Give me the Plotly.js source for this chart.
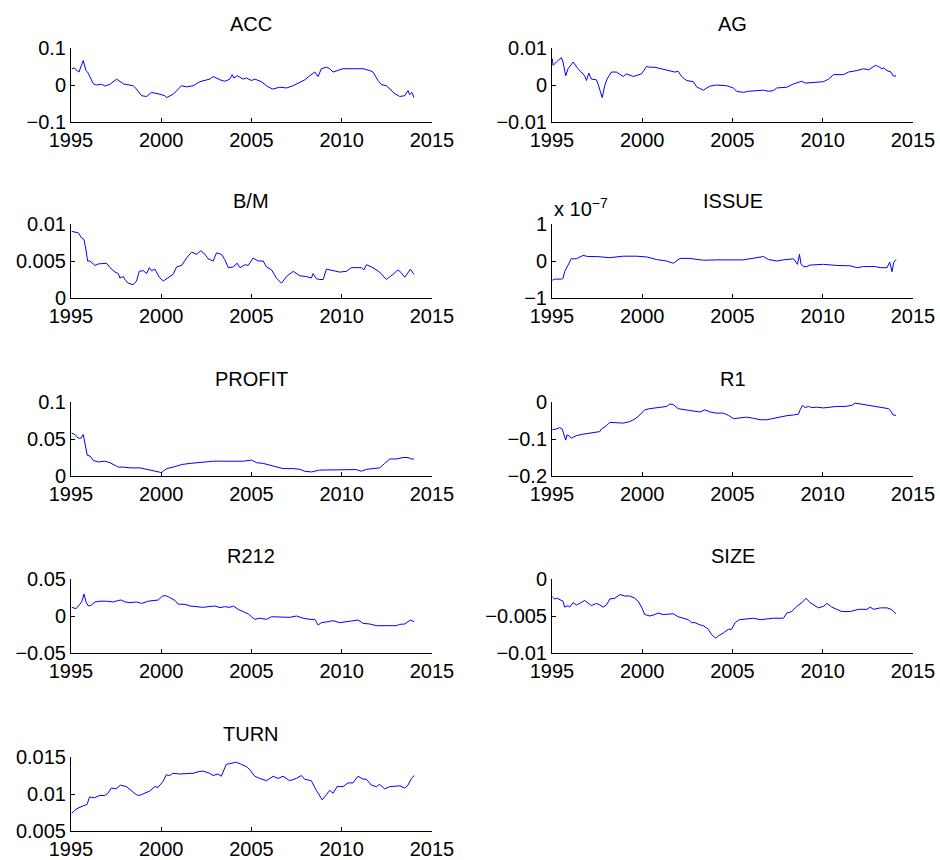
<!DOCTYPE html>
<html><head><meta charset="utf-8">
<script src="https://cdn.plot.ly/plotly-3.0.1.min.js"></script>
<style>html,body{margin:0;padding:0;background:#fff}</style>
</head><body><div id="chart" style="width:940px;height:860px"></div>
<script>
// ---------- data ----------
const panelNames = ['ACC','AG','B/M','ISSUE','PROFIT','R1','R212','SIZE','TURN'];
const xTickVals = [1995,2000,2005,2010,2015];
const xTickText = ['1995','2000','2005','2010','2015'];

const accYear = [1995.04,1995.17,1995.44,1995.68,1995.83,1995.92,1996.24,1996.42,1996.70,1996.88,1997.16,1997.53,1997.90,1998.17,1998.45,1998.63,1998.91,1999.19,1999.46,1999.93,2000.20,2000.30,2000.66,2000.94,2001.13,2001.40,2001.77,2002.14,2002.69,2002.88,2003.25,2003.52,2003.80,2003.93,2004.02,2004.21,2004.54,2004.72,2005.00,2005.18,2005.55,2005.83,2006.16,2006.57,2006.94,2007.31,2007.68,2007.95,2008.23,2008.51,2008.69,2008.87,2009.15,2009.34,2009.52,2009.80,2010.07,2010.63,2011.18,2011.55,2011.73,2012.01,2012.20,2012.47,2012.66,2012.93,2013.21,2013.49,2013.67,2013.76,2013.89,2014.00];
const accValue = [0.044,0.046,0.035,0.066,0.039,0.035,0.003,0.000,0.002,-0.003,0.002,0.016,0.003,0.001,-0.002,-0.011,-0.029,-0.031,-0.020,-0.025,-0.029,-0.034,-0.025,-0.011,-0.002,-0.005,-0.002,0.009,0.016,0.023,0.014,0.010,0.016,0.028,0.019,0.025,0.016,0.019,0.012,0.016,0.009,-0.002,-0.011,-0.006,-0.008,-0.002,0.007,0.014,0.025,0.035,0.023,0.044,0.048,0.044,0.035,0.039,0.044,0.044,0.044,0.039,0.035,0.012,0.001,-0.002,-0.011,-0.023,-0.031,-0.029,-0.015,-0.026,-0.020,-0.034];

const agYear = [1995.02,1995.06,1995.24,1995.52,1995.61,1995.76,1995.89,1996.17,1996.44,1996.72,1996.81,1996.91,1997.04,1997.18,1997.46,1997.55,1997.78,1997.92,1998.05,1998.29,1998.57,1998.94,1999.13,1999.50,1999.77,1999.96,2000.24,2000.42,2000.70,2001.07,2001.35,2001.62,2001.81,2001.99,2002.18,2002.46,2002.83,2003.01,2003.38,2003.75,2004.12,2004.68,2005.05,2005.23,2005.60,2005.88,2006.25,2006.71,2006.99,2007.27,2007.45,2008.01,2008.38,2008.84,2009.02,2009.49,2010.04,2010.32,2010.60,2011.15,2011.43,2011.89,2012.26,2012.54,2012.91,2013.09,2013.28,2013.37,2013.56,2013.78,2013.89,2014.06];
const agValue = [0.0071,0.0053,0.0062,0.0074,0.0062,0.0025,0.0044,0.0062,0.0044,0.0028,0.0025,0.0012,0.0032,0.0016,0.0014,0.0003,-0.0034,-0.0002,0.0016,0.0035,0.0035,0.0023,0.0030,0.0023,0.0028,0.0030,0.0050,0.0048,0.0048,0.0044,0.0041,0.0039,0.0035,0.0037,0.0023,0.0012,0.0009,-0.0005,-0.0014,-0.0003,0.0000,-0.0002,-0.0008,-0.0017,-0.0020,-0.0017,-0.0015,-0.0014,-0.0017,-0.0015,-0.0008,-0.0006,0.0003,0.0010,0.0005,0.0007,0.0009,0.0016,0.0028,0.0028,0.0035,0.0039,0.0044,0.0041,0.0053,0.0050,0.0044,0.0046,0.0039,0.0035,0.0025,0.0024];

const bmYear = [1995.04,1995.41,1995.59,1995.72,1995.83,1995.92,1996.05,1996.33,1996.51,1996.79,1996.97,1997.16,1997.44,1997.62,1997.71,1997.90,1997.99,1998.17,1998.45,1998.63,1998.78,1999.00,1999.19,1999.34,1999.46,1999.65,1999.89,2000.11,2000.30,2000.66,2000.85,2001.13,2001.40,2001.68,2001.96,2002.20,2002.42,2002.60,2002.88,2003.06,2003.34,2003.52,2003.71,2003.99,2004.21,2004.36,2004.63,2004.82,2005.09,2005.37,2005.65,2005.83,2006.11,2006.38,2006.66,2006.94,2007.31,2007.68,2008.04,2008.32,2008.41,2008.60,2008.78,2008.97,2009.15,2009.52,2009.89,2010.26,2010.53,2011.09,2011.22,2011.37,2011.73,2012.10,2012.47,2012.84,2013.12,2013.30,2013.49,2013.67,2013.80,2014.00];
const bmValue = [0.0090,0.0088,0.0081,0.0079,0.0065,0.0050,0.0050,0.0044,0.0046,0.0046,0.0047,0.0041,0.0035,0.0033,0.0027,0.0029,0.0025,0.0020,0.0018,0.0023,0.0036,0.0037,0.0033,0.0041,0.0037,0.0039,0.0028,0.0023,0.0026,0.0032,0.0042,0.0044,0.0054,0.0062,0.0059,0.0064,0.0059,0.0053,0.0050,0.0061,0.0059,0.0052,0.0041,0.0042,0.0047,0.0041,0.0045,0.0044,0.0054,0.0050,0.0050,0.0042,0.0038,0.0027,0.0020,0.0029,0.0036,0.0030,0.0029,0.0027,0.0033,0.0026,0.0025,0.0025,0.0039,0.0037,0.0035,0.0036,0.0041,0.0041,0.0038,0.0045,0.0041,0.0035,0.0025,0.0032,0.0038,0.0034,0.0028,0.0034,0.0039,0.0032];

const issueYear = [1995.02,1995.15,1995.52,1995.61,1995.70,1995.83,1995.98,1996.07,1996.35,1996.72,1997.00,1997.46,1998.20,1998.94,1999.68,2000.24,2000.79,2001.35,2001.72,2002.09,2002.64,2003.01,2003.38,2004.12,2004.86,2005.60,2005.97,2006.53,2006.71,2006.99,2007.45,2007.82,2008.19,2008.38,2008.47,2008.60,2008.71,2008.80,2008.93,2009.12,2009.30,2010.04,2010.78,2011.52,2011.89,2012.26,2012.63,2012.91,2013.19,2013.37,2013.56,2013.71,2013.84,2013.93,2014.06];
const issueValue = [-0.52e-7,-0.49e-7,-0.49e-7,-0.47e-7,-0.29e-7,-0.18e-7,-0.04e-7,0.06e-7,0.06e-7,0.15e-7,0.12e-7,0.12e-7,0.09e-7,0.13e-7,0.13e-7,0.11e-7,0.04e-7,0.00e-7,-0.06e-7,0.07e-7,0.07e-7,0.04e-7,0.02e-7,0.03e-7,0.02e-7,0.03e-7,0.06e-7,0.09e-7,0.12e-7,0.04e-7,0.00e-7,0.03e-7,0.04e-7,0.06e-7,0.00e-7,-0.09e-7,0.18e-7,-0.09e-7,-0.15e-7,-0.15e-7,-0.11e-7,-0.09e-7,-0.12e-7,-0.13e-7,-0.18e-7,-0.15e-7,-0.15e-7,-0.15e-7,-0.18e-7,-0.18e-7,-0.18e-7,-0.03e-7,-0.29e-7,-0.04e-7,0.04e-7];

const profitYear = [1995.04,1995.22,1995.41,1995.55,1995.68,1995.77,1995.90,1996.05,1996.24,1996.51,1996.88,1997.16,1997.44,1997.62,1997.90,1998.27,1998.82,1999.00,1999.37,1999.74,2000.02,2000.11,2000.30,2000.66,2001.13,2001.59,2001.96,2002.51,2002.88,2003.43,2003.99,2004.54,2005.00,2005.28,2005.65,2006.01,2006.38,2006.75,2007.31,2007.68,2007.95,2008.32,2008.78,2009.34,2009.89,2010.44,2010.81,2011.09,2011.37,2011.73,2012.10,2012.38,2012.66,2013.03,2013.40,2013.67,2013.86,2014.00];
const profitValue = [0.058,0.056,0.051,0.051,0.056,0.044,0.028,0.027,0.021,0.019,0.020,0.018,0.015,0.012,0.012,0.011,0.011,0.010,0.008,0.0055,0.0046,0.0065,0.010,0.012,0.0155,0.017,0.018,0.019,0.020,0.020,0.020,0.020,0.0215,0.018,0.017,0.015,0.012,0.010,0.010,0.009,0.0064,0.0055,0.008,0.008,0.008,0.008,0.0087,0.0064,0.009,0.010,0.011,0.017,0.023,0.023,0.025,0.025,0.023,0.023];

const r1Year = [1995.02,1995.24,1995.43,1995.57,1995.67,1995.76,1995.83,1995.94,1996.07,1996.35,1996.72,1997.09,1997.46,1997.65,1997.74,1998.02,1998.20,1998.57,1998.94,1999.31,1999.59,1999.87,2000.14,2000.42,2000.79,2001.16,2001.35,2001.53,2001.72,2001.99,2002.27,2002.64,2003.20,2003.47,2003.75,2004.12,2004.49,2004.77,2005.05,2005.42,2005.79,2006.16,2006.53,2006.90,2007.27,2007.64,2008.01,2008.38,2008.65,2008.75,2008.88,2009.02,2009.21,2009.39,2009.67,2010.04,2010.41,2010.78,2011.24,2011.61,2011.80,2012.08,2012.45,2012.82,2013.19,2013.65,2013.78,2013.89,2014.06];
const r1Value = [-0.075,-0.073,-0.069,-0.073,-0.089,-0.103,-0.089,-0.091,-0.098,-0.091,-0.087,-0.085,-0.082,-0.080,-0.073,-0.064,-0.055,-0.055,-0.057,-0.053,-0.046,-0.035,-0.021,-0.018,-0.016,-0.012,-0.012,-0.0055,-0.007,-0.018,-0.021,-0.023,-0.027,-0.021,-0.027,-0.030,-0.030,-0.036,-0.045,-0.042,-0.041,-0.044,-0.048,-0.048,-0.044,-0.041,-0.037,-0.035,-0.033,-0.021,-0.009,-0.015,-0.012,-0.015,-0.014,-0.016,-0.014,-0.012,-0.012,-0.009,-0.003,-0.0055,-0.009,-0.012,-0.015,-0.018,-0.025,-0.035,-0.036];

const r212Year = [1995.04,1995.28,1995.46,1995.59,1995.72,1995.83,1995.96,1996.14,1996.33,1996.61,1996.97,1997.34,1997.62,1997.80,1997.99,1998.27,1998.63,1998.91,1999.28,1999.65,1999.83,2000.07,2000.26,2000.48,2000.76,2000.94,2001.31,2001.59,2001.96,2002.32,2002.60,2002.97,2003.25,2003.52,2003.80,2003.99,2004.26,2004.54,2004.82,2005.00,2005.18,2005.46,2005.83,2006.11,2006.38,2006.75,2007.12,2007.49,2007.86,2008.23,2008.51,2008.69,2008.87,2009.24,2009.52,2009.89,2010.26,2010.63,2010.90,2011.18,2011.55,2011.92,2012.47,2013.03,2013.21,2013.49,2013.67,2013.80,2014.00];
const r212Value = [0.0117,0.0099,0.0149,0.019,0.0297,0.019,0.0135,0.0149,0.019,0.020,0.020,0.019,0.021,0.0216,0.019,0.018,0.019,0.017,0.020,0.0216,0.0216,0.027,0.0275,0.0248,0.021,0.016,0.0158,0.0135,0.0126,0.0117,0.0126,0.0135,0.0113,0.0126,0.0117,0.0135,0.009,0.0059,0.0027,-0.001,-0.0045,-0.003,-0.0045,-0.001,-0.001,-0.0018,-0.0018,0.0,-0.003,-0.0045,-0.0045,-0.0122,-0.009,-0.0077,-0.0063,-0.009,-0.0077,-0.0063,-0.0054,-0.0099,-0.0108,-0.0131,-0.0131,-0.0131,-0.0113,-0.0108,-0.0077,-0.0054,-0.0077];

const sizeYear = [1995.02,1995.15,1995.28,1995.43,1995.61,1995.70,1995.89,1995.98,1996.17,1996.35,1996.54,1996.81,1997.00,1997.18,1997.46,1997.65,1997.83,1998.02,1998.20,1998.48,1998.76,1999.03,1999.31,1999.59,1999.77,1999.96,2000.14,2000.42,2000.70,2000.88,2001.16,2001.53,2001.72,2001.99,2002.27,2002.55,2002.73,2002.92,2003.20,2003.38,2003.66,2003.84,2004.08,2004.21,2004.49,2004.77,2004.95,2005.14,2005.38,2005.79,2006.16,2006.53,2006.90,2007.27,2007.82,2008.01,2008.28,2008.56,2008.84,2009.08,2009.30,2009.49,2009.76,2010.04,2010.23,2010.50,2010.78,2011.06,2011.52,2011.98,2012.45,2012.63,2012.82,2013.19,2013.56,2013.78,2013.93,2014.06];
const sizeValue = [-0.0024,-0.0027,-0.0026,-0.0028,-0.0030,-0.0038,-0.0036,-0.0038,-0.0032,-0.0035,-0.0033,-0.0029,-0.0033,-0.0036,-0.0033,-0.0035,-0.0038,-0.0035,-0.0027,-0.0026,-0.0021,-0.0023,-0.0023,-0.0026,-0.0030,-0.0038,-0.0048,-0.0050,-0.0048,-0.0046,-0.0048,-0.0048,-0.0047,-0.0051,-0.0053,-0.0055,-0.0059,-0.0059,-0.0062,-0.0063,-0.0068,-0.0075,-0.0080,-0.0077,-0.0073,-0.0068,-0.0068,-0.0059,-0.0055,-0.0054,-0.0053,-0.0055,-0.0054,-0.0053,-0.0053,-0.0046,-0.0044,-0.0037,-0.0032,-0.0026,-0.0032,-0.0035,-0.0039,-0.0037,-0.0033,-0.0038,-0.0041,-0.0044,-0.0044,-0.0041,-0.0041,-0.0038,-0.0041,-0.0039,-0.0039,-0.0041,-0.0044,-0.0047];

const turnYear = [1995.04,1995.20,1995.39,1995.57,1995.76,1995.89,1996.03,1996.31,1996.59,1996.87,1997.05,1997.23,1997.51,1997.73,1998.07,1998.34,1998.62,1998.80,1999.08,1999.36,1999.64,1999.82,2000.10,2000.28,2000.47,2000.65,2001.02,2001.39,2001.76,2002.04,2002.31,2002.68,2002.87,2003.14,2003.33,2003.60,2003.88,2004.16,2004.44,2004.72,2004.90,2005.18,2005.46,2005.83,2006.20,2006.47,2006.75,2007.11,2007.48,2007.76,2007.94,2008.31,2008.59,2008.92,2009.15,2009.33,2009.52,2009.74,2010.07,2010.35,2010.62,2010.90,2011.18,2011.36,2011.64,2011.92,2012.10,2012.38,2012.66,2012.93,2013.21,2013.49,2013.67,2013.86,2014.01];
const turnValue = [0.00736,0.0078,0.0081,0.0083,0.0085,0.0086,0.0096,0.0095,0.0098,0.0098,0.0101,0.0108,0.0107,0.0112,0.0110,0.0105,0.0099,0.0098,0.0101,0.0104,0.0110,0.0109,0.0117,0.0126,0.0125,0.0128,0.0127,0.0127,0.0128,0.0130,0.0131,0.0128,0.0125,0.0127,0.0124,0.0140,0.0142,0.0143,0.0140,0.0137,0.0133,0.0124,0.0121,0.0118,0.0124,0.0121,0.0124,0.0118,0.0121,0.0125,0.0120,0.0118,0.0105,0.0092,0.0099,0.0105,0.0101,0.0110,0.0110,0.0115,0.0115,0.0124,0.0120,0.0120,0.0112,0.0110,0.0113,0.0107,0.0110,0.0110,0.0111,0.0108,0.0112,0.0121,0.0125];

const accTicks = [-0.1,0,0.1],      accTickText = ['\u22120.1','0','0.1'];
const agTicks = [-0.01,0,0.01],     agTickText = ['\u22120.01','0','0.01'];
const bmTicks = [0,0.005,0.01],     bmTickText = ['0','0.005','0.01'];
const issueTicks = [-1e-7,0,1e-7],  issueTickText = ['\u22121','0','1'];
const profitTicks = [0,0.05,0.1],   profitTickText = ['0','0.05','0.1'];
const r1Ticks = [-0.2,-0.1,0],      r1TickText = ['\u22120.2','\u22120.1','0'];
const r212Ticks = [-0.05,0,0.05],   r212TickText = ['\u22120.05','0','0.05'];
const sizeTicks = [-0.01,-0.005,0], sizeTickText = ['\u22120.01','\u22120.005','0'];
const turnTicks = [0.005,0.01,0.015], turnTickText = ['0.005','0.01','0.015'];

// ---------- assembly ----------
const series = [
  [accYear, accValue, accTicks, accTickText],
  [agYear, agValue, agTicks, agTickText],
  [bmYear, bmValue, bmTicks, bmTickText],
  [issueYear, issueValue, issueTicks, issueTickText],
  [profitYear, profitValue, profitTicks, profitTickText],
  [r1Year, r1Value, r1Ticks, r1TickText],
  [r212Year, r212Value, r212Ticks, r212TickText],
  [sizeYear, sizeValue, sizeTicks, sizeTickText],
  [turnYear, turnValue, turnTicks, turnTickText]
];

const W = 940, H = 860;
const colPx = [[71, 432], [552, 913]];
const rowTopPx = [48, 224, 402, 579, 757];
const plotH = 74;
const FONT = 'Liberation Sans, Arial, Helvetica, sans-serif';

const traces = [];
const layout = {
  width: W, height: H, margin: {l:0, r:0, t:0, b:0},
  paper_bgcolor: '#fff', plot_bgcolor: '#fff', showlegend: false,
  font: {family: FONT, size: 20, color: '#000'},
  annotations: []
};

series.forEach((s, i) => {
  const col = i % 2, row = Math.floor(i / 2);
  const n = i + 1, sx = n === 1 ? '' : String(n);
  const [x0, x1] = colPx[col];
  const top = rowTopPx[row];
  const yDom = [1 - (top + plotH) / H, 1 - top / H];
  const xDom = [x0 / W, x1 / W];
  traces.push({
    x: s[0], y: s[1], type: 'scatter', mode: 'lines',
    line: {color: '#0000ff', width: 1},
    xaxis: 'x' + sx, yaxis: 'y' + sx, hoverinfo: 'x+y'
  });
  const common = {
    showline: true, linecolor: '#000', linewidth: 1, mirror: false,
    ticks: 'inside', ticklen: 4, tickwidth: 1, tickcolor: '#000',
    showgrid: false, zeroline: false, automargin: false, fixedrange: true,
    tickfont: {family: FONT, size: 20, color: '#000'}
  };
  layout['xaxis' + sx] = Object.assign({}, common, {
    domain: xDom, anchor: 'y' + sx, range: [1995, 2015],
    tickmode: 'array', tickvals: xTickVals, ticktext: xTickText
  });
  const yr = [s[2][0], s[2][2]];
  layout['yaxis' + sx] = Object.assign({}, common, {
    domain: yDom, anchor: 'x' + sx, range: yr,
    tickmode: 'array', tickvals: s[2], ticktext: s[3]
  });
  layout.annotations.push({
    text: panelNames[i], xref: 'paper', yref: 'paper',
    x: (x0 + x1) / 2 / W, y: 1 - (top - 23.5) / H,
    xanchor: 'center', yanchor: 'middle', showarrow: false,
    font: {family: FONT, size: 20, color: '#000'}
  });
  if (panelNames[i] === 'ISSUE') {
    layout.annotations.push({
      text: 'x 10<sup>\u22127</sup>', xref: 'paper', yref: 'paper',
      x: x0 / W, y: 1 - (top - 2) / H, xanchor: 'left', yanchor: 'bottom',
      showarrow: false, font: {family: FONT, size: 20, color: '#000'}
    });
  }
});

Plotly.newPlot('chart', traces, layout, {staticPlot: true, displayModeBar: false});
</script>
</body></html>
